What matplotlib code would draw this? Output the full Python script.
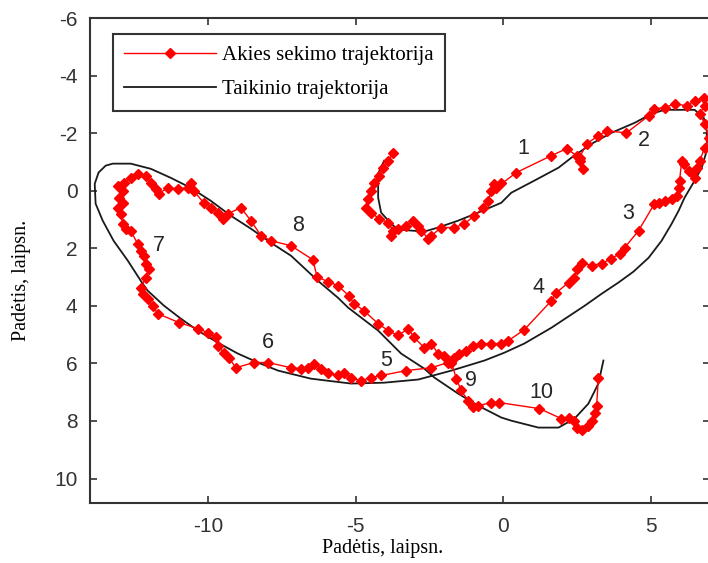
import matplotlib
matplotlib.use("Agg")
import matplotlib.pyplot as plt

plt.rcParams["axes.unicode_minus"] = False

# Target trajectory (degrees)
target_x = [-4.04, -4.24, -4.24, -4.14, -3.80, -3.56, -2.68, -2.21, -1.53, -0.85,
            -0.07, 0.27, 1.05, 1.87, 2.31, 2.99, 3.66, 4.45, 5.02, 5.46,
            6.48, 6.79, 6.89, 6.89, 6.72, 6.48, 6.14, 5.94, 5.70, 5.36,
            4.92, 4.41, 3.90, 3.33, 2.75, 1.63, 0.71, 0.03, -0.64, -1.76,
            -2.88, -4.04, -5.16, -6.52, -7.63, -8.31, -8.99, -9.67, -10.35, -10.93,
            -11.50, -12.05, -12.28, -12.72, -13.20, -13.57, -13.81, -13.84, -13.71, -13.47,
            -13.23, -12.62, -11.94, -11.27, -10.59, -9.91, -9.23, -8.55, -7.87, -7.19,
            -6.28, -5.60, -5.26, -4.24, -3.46, -2.68, -2.34, -1.53, -0.85, -0.07,
            0.27, 1.19, 1.87, 2.41, 2.88, 3.22, 3.39]
target_y = [-1.04, -0.59, 0.24, 0.76, 1.15, 1.35, 1.42, 1.28, 1.04, 0.76,
            0.42, 0.07, -0.35, -0.80, -1.15, -1.63, -2.01, -2.36, -2.67, -2.81,
            -2.81, -2.53, -2.08, -1.39, -0.80, -0.35, 0.24, 0.69, 1.15, 1.74,
            2.33, 2.81, 3.19, 3.58, 4.00, 4.76, 5.31, 5.63, 5.90, 6.25,
            6.56, 6.67, 6.70, 6.53, 6.25, 5.97, 5.66, 5.28, 4.86, 4.44,
            3.99, 3.47, 3.13, 2.43, 1.74, 1.04, 0.45, -0.24, -0.63, -0.87,
            -0.94, -0.94, -0.76, -0.45, -0.10, 0.35, 0.87, 1.32, 1.81, 2.26,
            3.13, 3.72, 4.06, 4.86, 5.66, 6.18, 6.49, 7.05, 7.47, 7.88,
            7.99, 8.23, 8.23, 7.92, 7.40, 6.70, 5.90]

# Eye tracking trajectory (degrees)
eye_x = [-3.73, -3.90, -4.07, -4.21, -4.38, -4.48, -4.58, -4.65, -4.48, -4.21,
         -3.90, -3.73, -3.80, -3.56, -3.29, -3.05, -2.88, -2.78, -2.54, -2.44,
         -2.10, -1.66, -1.32, -0.98, -0.68, -0.51, -0.41, -0.31, -0.07, -0.24,
         0.44, 1.63, 2.14, 2.48, 2.58, 2.71, 2.58, 2.82, 3.22, 3.50,
         4.17, 4.92, 5.12, 5.46, 5.80, 6.21, 6.48, 6.79, 6.82, 6.65,
         6.82, 6.96, 6.82, 6.65, 6.55, 6.38, 6.48, 6.28, 6.11, 6.04,
         5.97, 5.94, 5.87, 5.70, 5.46, 5.26, 5.12, 4.58, 4.11, 3.94,
         3.66, 3.33, 2.99, 2.65, 2.48, 2.41, 2.21, 1.80, 1.63, 0.71,
         0.17, -0.07, -0.41, -0.75, -1.02, -1.26, -1.49, -1.66, -1.76, -1.87,
         -2.44, -3.29, -4.14, -4.48, -4.82, -5.16, -5.40, -5.60, -5.94, -6.18,
         -6.41, -6.62, -6.85, -7.19, -7.97, -8.45, -9.06, -9.30, -9.47, -9.67,
         -9.74, -10.01, -10.35, -10.99, -11.71, -11.88, -12.05, -12.22, -12.28, -12.11,
         -12.01, -12.11, -12.18, -12.28, -12.39, -12.62, -12.79, -12.89, -12.96, -13.06,
         -12.89, -13.03, -12.89, -13.06, -12.86, -12.62, -12.39, -12.11, -11.94, -11.77,
         -11.67, -11.37, -11.03, -10.69, -10.59, -10.49, -10.15, -9.91, -9.67, -9.50,
         -9.33, -8.89, -8.55, -8.21, -7.87, -7.19, -6.45, -6.31, -5.94, -5.60,
         -5.23, -5.06, -4.72, -4.24, -3.90, -3.56, -3.22, -3.02, -2.68, -2.44,
         -2.21, -2.00, -1.76, -1.59, -1.43, -1.19, -1.02, -0.85, -0.41, -0.14,
         1.22, 1.97, 2.21, 2.38, 2.48, 2.65, 2.88, 2.99, 3.09, 3.16,
         3.22]
eye_y = [-1.32, -1.04, -0.80, -0.52, -0.28, 0.00, 0.28, 0.59, 0.76, 0.97,
         1.11, 1.39, 1.56, 1.32, 1.22, 1.04, 1.22, 1.39, 1.67, 1.56,
         1.28, 1.28, 1.15, 0.87, 0.59, 0.35, 0.00, -0.24, -0.28, -0.10,
         -0.63, -1.22, -1.46, -1.22, -1.04, -0.76, -1.15, -1.63, -1.91, -2.08,
         -2.01, -2.60, -2.85, -2.88, -3.02, -2.95, -3.13, -3.23, -2.95, -2.67,
         -2.33, -1.84, -1.49, -1.04, -0.80, -0.63, -0.45, -0.69, -0.94, -1.04,
         -0.35, -0.10, 0.17, 0.28, 0.35, 0.42, 0.45, 1.39, 1.98, 2.19,
         2.36, 2.53, 2.60, 2.50, 2.71, 3.02, 3.19, 3.54, 3.82, 4.83,
         5.21, 5.31, 5.31, 5.31, 5.38, 5.56, 5.66, 5.80, 5.90, 5.97,
         6.15, 6.25, 6.42, 6.49, 6.60, 6.49, 6.35, 6.42, 6.35, 6.18,
         6.01, 6.15, 6.18, 6.15, 5.97, 5.97, 6.15, 5.80, 5.63, 5.38,
         5.10, 4.93, 4.79, 4.58, 4.27, 3.99, 3.75, 3.58, 3.37, 3.02,
         2.71, 2.53, 2.26, 2.08, 1.84, 1.39, 1.32, 1.15, 0.80, 0.59,
         0.42, 0.24, 0.00, -0.17, -0.28, -0.45, -0.59, -0.52, -0.28, -0.07,
         0.10, -0.10, -0.07, -0.10, -0.28, 0.00, 0.42, 0.59, 0.76, 0.97,
         0.80, 0.59, 1.04, 1.56, 1.74, 1.91, 2.40, 2.99, 3.16, 3.30,
         3.65, 3.92, 4.17, 4.62, 4.86, 5.03, 4.79, 5.10, 5.45, 5.31,
         5.66, 5.73, 5.97, 6.53, 6.94, 7.29, 7.53, 7.47, 7.36, 7.36,
         7.57, 7.92, 7.88, 7.99, 8.23, 8.33, 8.16, 7.99, 7.74, 7.47,
         6.49]

# Segment numbers along the path
seg_labels = ["1", "2", "3", "4", "5", "6", "7", "8", "9", "10"]
seg_x = [0.68, 4.75, 4.24, 1.19, -3.97, -7.97, -11.67, -6.96, -1.09, 1.29]
seg_y = [-1.46, -1.74, 0.80, 3.37, 5.90, 5.28, 1.91, 1.22, 6.60, 7.01]

fig = plt.figure(figsize=(7.08, 5.63), dpi=100)
ax = fig.add_axes([90 / 708, 1 - 503 / 563, 620 / 708, 485 / 563])

ax.plot(eye_x, eye_y, color="red", lw=1.0, marker="D", ms=5,
        mec="red", mfc="red", label="Akies sekimo trajektorija", zorder=3)
ax.plot(target_x, target_y, color="#1a1a1a", lw=1.3,
        label="Taikinio trajektorija", zorder=2)

for s, x, y in zip(seg_labels, seg_x, seg_y):
    ax.text(x, y, s, fontsize=15.5, color="#262626", ha="center", va="center",
            family="Liberation Sans")

ax.set_xlim(-14, 7)
ax.set_ylim(10.85, -6)
ax.set_xticks([-10, -5, 0, 5])
ax.set_yticks([-6, -4, -2, 0, 2, 4, 6, 8, 10])
ax.tick_params(direction="in", length=5, width=1.2, top=True, right=True,
               labelsize=15, labelcolor="#333333", color="#333333")
ax.tick_params(axis="x", pad=10)
ax.tick_params(axis="y", pad=9)
for lab in ax.get_xticklabels() + ax.get_yticklabels():
    lab.set_family("Liberation Sans")
for sp in ax.spines.values():
    sp.set_linewidth(1.5)
    sp.set_color("#333333")

fig.text(383 / 708, 1 - 549 / 563, "Padėtis, laipsn.", ha="center", va="center",
         fontsize=14.5, family="Liberation Serif")
fig.text(22 / 708, 1 - 280 / 563, "Padėtis, laipsn.", ha="center", va="center",
         rotation=90, fontsize=14.5, family="Liberation Serif")

leg = ax.legend(loc="upper left", bbox_to_anchor=(0.037, 0.967), borderaxespad=0,
                prop={"family": "Liberation Serif", "size": 15},
                handlelength=4.4, handletextpad=0.3, labelspacing=0.7,
                borderpad=0.55, fancybox=False, framealpha=1, edgecolor="#333333")
leg.get_frame().set_linewidth(1.5)

fig.savefig("out.png", dpi=100)
